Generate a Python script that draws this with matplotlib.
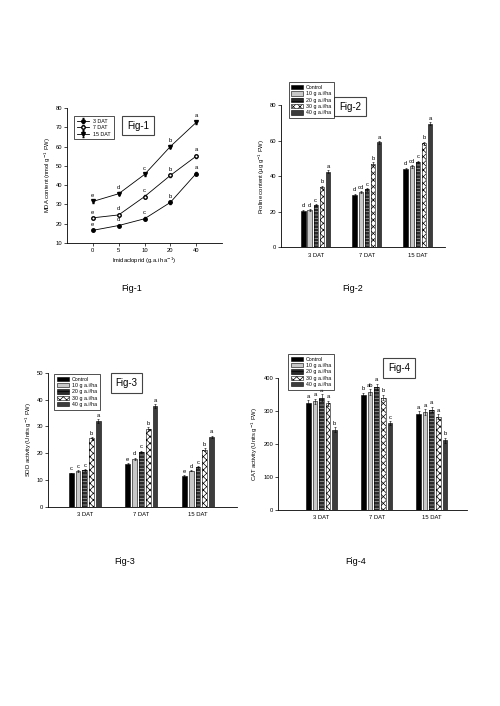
import matplotlib.pyplot as plt
import numpy as np
from matplotlib.patches import Patch

plt.rcParams['font.family'] = ['Liberation Sans', 'DejaVu Sans']
plt.rcParams['hatch.linewidth'] = 0.5

# Fig-1 data (MDA content)
doses = ['0', '5', '10', '20', '40']
mda_3 = [16.5, 19.0, 22.5, 31.0, 46.0]
mda_7 = [23.0, 24.5, 34.0, 45.0, 55.0]
mda_15 = [31.5, 35.5, 45.5, 60.0, 72.5]
mda_err3 = [0.6, 0.5, 0.7, 0.8, 0.8]
mda_err7 = [0.5, 0.6, 0.7, 0.7, 0.8]
mda_err15 = [0.7, 0.8, 0.8, 0.9, 0.9]
mda_let = ['e', 'd', 'c', 'b', 'a']

# bar chart data
days = ['3 DAT', '7 DAT', '15 DAT']
treatments = ['Control', '10 g a.i/ha', '20 g a.i/ha', '30 g a.i/ha', '40 g a.i/ha']

proline = [[20.5, 29.5, 44.0],
           [21.0, 31.0, 45.5],
           [23.5, 32.5, 48.0],
           [34.0, 47.0, 58.5],
           [42.5, 59.0, 69.5]]
proline_err = [[0.6, 0.6, 0.7], [0.5, 0.6, 0.7], [0.6, 0.7, 0.6],
               [0.7, 0.7, 0.8], [0.7, 0.8, 0.9]]
proline_let = [['d', 'd', 'd'], ['d', 'cd', 'cd'], ['c', 'c', 'c'],
               ['b', 'b', 'b'], ['a', 'a', 'a']]

sod = [[12.5, 16.0, 11.5],
       [13.3, 18.0, 13.5],
       [13.7, 20.5, 14.8],
       [25.5, 29.0, 21.3],
       [32.0, 37.5, 26.0]]
sod_err = [[0.3, 0.4, 0.3], [0.3, 0.4, 0.3], [0.3, 0.5, 0.4],
           [0.5, 0.6, 0.5], [0.6, 0.8, 0.5]]
sod_let = [['c', 'e', 'e'], ['c', 'd', 'd'], ['c', 'c', 'c'],
           ['b', 'b', 'b'], ['a', 'a', 'a']]

cat = [[322, 347, 290],
       [328, 356, 295],
       [340, 373, 303],
       [322, 340, 282],
       [243, 262, 210]]
cat_err = [[9, 8, 8], [8, 9, 9], [10, 9, 8], [7, 9, 7], [7, 6, 7]]
cat_let = [['a', 'b', 'a'], ['a', 'ab', 'a'], ['a', 'a', 'a'],
           ['a', 'b', 'a'], ['b', 'c', 'b']]

fig = plt.figure(figsize=(5.0, 7.06), dpi=100)

small = 4.2
legsize = 3.8


def style_axes(ax):
    ax.spines['top'].set_visible(False)
    ax.spines['right'].set_visible(False)
    for s in ['left', 'bottom']:
        ax.spines[s].set_linewidth(0.6)
    ax.tick_params(labelsize=small, width=0.5, length=2, pad=1.5)


def label_box(ax, text, x, y):
    ax.text(x, y, text, transform=ax.transAxes, fontsize=7, ha='center', va='center',
            bbox=dict(boxstyle='square,pad=0.5', fc='white', ec='#444444', lw=0.8))


# ---- Fig-1 ----
ax1 = fig.add_axes([0.134, 0.656, 0.31, 0.191])
xpos = np.arange(len(doses))
ax1.errorbar(xpos, mda_3, yerr=mda_err3, color='black', marker='o', ms=2.5, lw=0.6,
             capsize=1, elinewidth=0.5, label='3 DAT')
ax1.errorbar(xpos, mda_7, yerr=mda_err7, color='black', marker='o', ms=2.5, lw=0.6,
             mfc='white', capsize=1, elinewidth=0.5, label='7 DAT')
ax1.errorbar(xpos, mda_15, yerr=mda_err15, color='black', marker='v', ms=2.8, lw=0.6,
             capsize=1, elinewidth=0.5, label='15 DAT')
for vals, errs in [(mda_3, mda_err3), (mda_7, mda_err7), (mda_15, mda_err15)]:
    for i, (v, e) in enumerate(zip(vals, errs)):
        ax1.text(xpos[i], v + e + 1.2, mda_let[i], fontsize=small, ha='center', va='bottom')
ax1.set_xlim(-1, 5)
ax1.set_ylim(10, 80)
ax1.set_xticks(xpos)
ax1.set_xticklabels(doses)
ax1.set_yticks(np.arange(10, 81, 10))
ax1.set_xlabel('Imidacloprid (g.a.i ha$^{-1}$)', fontsize=small, labelpad=2)
ax1.set_ylabel('MDA content (nmol g$^{-1}$ FW)', fontsize=small, labelpad=2)
style_axes(ax1)
leg = ax1.legend(loc='upper left', fontsize=legsize, frameon=True, fancybox=False,
                 edgecolor='black', borderpad=0.5, handlelength=2.3, labelspacing=0.3,
                 bbox_to_anchor=(0.03, 0.96))
leg.get_frame().set_linewidth(0.6)
label_box(ax1, 'Fig-1', 0.46, 0.87)

# ---- bar charts ----
styles = [dict(fc='black', hatch=None, hc=None),
          dict(fc='#c8c8c8', hatch=None, hc=None),
          dict(fc='#2a2a2a', hatch='-----', hc='#aaaaaa'),
          dict(fc='white', hatch='xxxxx', hc='black'),
          dict(fc='#3c3c3c', hatch=None, hc=None)]


def bar_panel(rect, data, errs, lets, ymax, ystep, ylabel, xlim, letter_off, fig_text,
              legend_anchor, box_xy):
    ax = fig.add_axes(rect)
    groups = np.arange(len(days))
    step = 0.12
    width = 0.085
    for k, vals in enumerate(data):
        st = styles[k]
        xs = groups + (k - 2) * step
        if st['hatch']:
            ax.bar(xs, vals, width, color=st['fc'], hatch=st['hatch'], edgecolor=st['hc'],
                   lw=0, zorder=2)
        ax.bar(xs, vals, width, color=st['fc'] if not st['hatch'] else 'none',
               edgecolor='black', lw=0.4, zorder=3, label=treatments[k])
        ax.errorbar(xs, vals, yerr=errs[k], fmt='none', ecolor='black', elinewidth=0.4,
                    capsize=1, capthick=0.4, zorder=4)
        for x, v, e, t in zip(xs, vals, errs[k], lets[k]):
            ax.text(x, v + e + letter_off, t, fontsize=small, ha='center', va='bottom')
    ax.set_xlim(*xlim)
    ax.set_ylim(0, ymax)
    ax.set_yticks(np.arange(0, ymax + 1, ystep))
    ax.set_xticks(groups)
    ax.set_xticklabels(days)
    ax.set_ylabel(ylabel, fontsize=small, labelpad=2)
    style_axes(ax)
    ax.tick_params(axis='x', length=0, pad=4)

    # legend proxies that show the hatch fills
    proxies = []
    for st in styles:
        if st['hatch']:
            proxies.append(Patch(facecolor=st['fc'], hatch=st['hatch'], edgecolor='black', lw=0.4))
        else:
            proxies.append(Patch(facecolor=st['fc'], edgecolor='black', lw=0.4))
    leg = ax.legend(proxies, treatments, loc='upper left', fontsize=legsize, frameon=True,
                    fancybox=False, edgecolor='black', borderpad=0.5, handlelength=2.3,
                    handleheight=0.9, labelspacing=0.25, handletextpad=0.5,
                    bbox_to_anchor=legend_anchor)
    leg.get_frame().set_linewidth(0.6)
    label_box(ax, fig_text, *box_xy)
    return ax


bar_panel([0.562, 0.650, 0.328, 0.201], proline, proline_err, proline_let, 80, 20,
          'Proline content (µg g$^{-1}$ FW)', (-0.68, 2.53), 0.8, 'Fig-2',
          (0.03, 1.18), (0.42, 0.99))
bar_panel([0.096, 0.282, 0.378, 0.190], sod, sod_err, sod_let, 50, 10,
          'SOD activity (Units g$^{-1}$ FW)', (-0.65, 2.69), 0.5, 'Fig-3',
          (0.02, 1.01), (0.415, 0.925))
bar_panel([0.556, 0.278, 0.378, 0.187], cat, cat_err, cat_let, 400, 100,
          'CAT activity (Units g$^{-1}$ FW)', (-0.79, 2.64), 5, 'Fig-4',
          (0.04, 1.2), (0.64, 1.075))

# captions under each figure
fig.text(0.264, 1 - 289 / 706, 'Fig-1', fontsize=6.5, ha='center', va='center')
fig.text(0.706, 1 - 289 / 706, 'Fig-2', fontsize=6.5, ha='center', va='center')
fig.text(0.25, 1 - 562 / 706, 'Fig-3', fontsize=6.5, ha='center', va='center')
fig.text(0.712, 1 - 562 / 706, 'Fig-4', fontsize=6.5, ha='center', va='center')

fig.savefig('out.png', dpi=100)
